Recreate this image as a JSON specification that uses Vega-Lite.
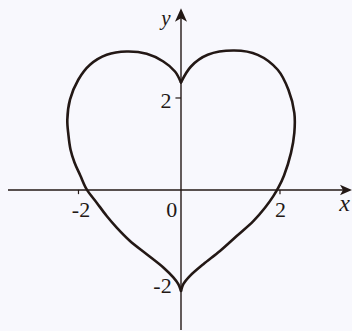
{
  "$schema": "https://vega.github.io/schema/vega-lite/v6.json",
  "width": 352,
  "height": 331,
  "autosize": {"type": "fit", "contains": "padding"},
  "padding": 0,
  "background": "#f8f8fd",
  "config": {"view": {"stroke": null}},
  "datasets": {
    "curve": [
      {"part": "L", "i": 0, "x": 0, "y": 2.294},
      {"part": "L", "i": 1, "x": -0.119, "y": 2.528},
      {"part": "L", "i": 2, "x": -0.35, "y": 2.74},
      {"part": "L", "i": 3, "x": -0.679, "y": 2.904},
      {"part": "L", "i": 4, "x": -1.075, "y": 2.953},
      {"part": "L", "i": 5, "x": -1.471, "y": 2.883},
      {"part": "L", "i": 6, "x": -1.802, "y": 2.67},
      {"part": "L", "i": 7, "x": -2.034, "y": 2.351},
      {"part": "L", "i": 8, "x": -2.198, "y": 1.926},
      {"part": "L", "i": 9, "x": -2.251, "y": 1.5},
      {"part": "L", "i": 10, "x": -2.23, "y": 1.181},
      {"part": "L", "i": 11, "x": -2.188, "y": 0.862},
      {"part": "L", "i": 12, "x": -2.109, "y": 0.585},
      {"part": "L", "i": 13, "x": -1.994, "y": 0.309},
      {"part": "L", "i": 14, "x": -1.867, "y": 0.011},
      {"part": "L", "i": 15, "x": -1.669, "y": -0.272},
      {"part": "L", "i": 16, "x": -1.471, "y": -0.557},
      {"part": "L", "i": 17, "x": -1.273, "y": -0.804},
      {"part": "L", "i": 18, "x": -1.01, "y": -1.089},
      {"part": "L", "i": 19, "x": -0.679, "y": -1.372},
      {"part": "L", "i": 20, "x": -0.35, "y": -1.655},
      {"part": "L", "i": 21, "x": -0.152, "y": -1.868},
      {"part": "L", "i": 22, "x": -0.053, "y": -2.011},
      {"part": "L", "i": 23, "x": 0, "y": -2.153},
      {"part": "R", "i": 0, "x": 0, "y": -2.153},
      {"part": "R", "i": 1, "x": 0.046, "y": -2.011},
      {"part": "R", "i": 2, "x": 0.178, "y": -1.834},
      {"part": "R", "i": 3, "x": 0.442, "y": -1.585},
      {"part": "R", "i": 4, "x": 0.772, "y": -1.302},
      {"part": "R", "i": 5, "x": 1.103, "y": -0.983},
      {"part": "R", "i": 6, "x": 1.432, "y": -0.664},
      {"part": "R", "i": 7, "x": 1.663, "y": -0.379},
      {"part": "R", "i": 8, "x": 1.828, "y": -0.132},
      {"part": "R", "i": 9, "x": 1.927, "y": 0.047},
      {"part": "R", "i": 10, "x": 2.04, "y": 0.309},
      {"part": "R", "i": 11, "x": 2.178, "y": 0.791},
      {"part": "R", "i": 12, "x": 2.244, "y": 1.217},
      {"part": "R", "i": 13, "x": 2.244, "y": 1.643},
      {"part": "R", "i": 14, "x": 2.127, "y": 2.138},
      {"part": "R", "i": 15, "x": 1.915, "y": 2.564},
      {"part": "R", "i": 16, "x": 1.519, "y": 2.883},
      {"part": "R", "i": 17, "x": 1.055, "y": 2.974},
      {"part": "R", "i": 18, "x": 0.529, "y": 2.883},
      {"part": "R", "i": 19, "x": 0.198, "y": 2.634},
      {"part": "R", "i": 20, "x": 0, "y": 2.294}
    ],
    "axes": [
      {"x": -3.426, "x2": 3.3, "y": 0, "y2": 0},
      {"x": 0, "x2": 0, "y": -2.99, "y2": 3.73}
    ],
    "ticks": [
      {"x": -2.03, "x2": -2.03, "y": 0, "y2": -0.09},
      {"x": 1.96, "x2": 1.96, "y": 0, "y2": -0.09},
      {"x": -0.11, "x2": 0, "y": 1.962, "y2": 1.962}
    ],
    "arrows": [
      {"dir": "right", "x": 3.267, "y": 0},
      {"dir": "up", "x": 0, "y": 3.734}
    ],
    "digits": [
      {"t": "-2", "x": -1.98, "y": -0.574, "s": 22},
      {"t": "0", "x": -0.184, "y": -0.574, "s": 22},
      {"t": "2", "x": 1.97, "y": -0.574, "s": 22},
      {"t": "2", "x": -0.297, "y": 1.749, "s": 22},
      {"t": "-2", "x": -0.366, "y": -2.2, "s": 22}
    ],
    "letters": [
      {"t": "x", "x": 3.238, "y": -0.457, "s": 24},
      {"t": "y", "x": -0.297, "y": 3.521, "s": 21}
    ]
  },
  "layer": [
    {
      "data": {"name": "axes"},
      "mark": {"type": "rule", "color": "#231815", "strokeWidth": 1.4},
      "encoding": {
        "x": {"field": "x", "type": "quantitative", "scale": {"domain": [-3.584, 3.386], "nice": false, "zero": false}, "axis": null},
        "x2": {"field": "x2"},
        "y": {"field": "y", "type": "quantitative", "scale": {"domain": [-2.989, 4.053], "nice": false, "zero": false}, "axis": null},
        "y2": {"field": "y2"}
      }
    },
    {
      "data": {"name": "ticks"},
      "mark": {"type": "rule", "color": "#231815", "strokeWidth": 1.2},
      "encoding": {
        "x": {"field": "x", "type": "quantitative"},
        "x2": {"field": "x2"},
        "y": {"field": "y", "type": "quantitative"},
        "y2": {"field": "y2"}
      }
    },
    {
      "data": {"name": "curve"},
      "mark": {"type": "line", "color": "#231815", "strokeWidth": 2.6, "interpolate": "catmull-rom", "strokeCap": "round", "strokeJoin": "round"},
      "encoding": {
        "x": {"field": "x", "type": "quantitative"},
        "y": {"field": "y", "type": "quantitative"},
        "detail": {"field": "part"},
        "order": {"field": "i", "type": "quantitative"}
      }
    },
    {
      "data": {"name": "arrows"},
      "transform": [{"filter": "datum.dir === 'right'"}],
      "mark": {"type": "point", "filled": true, "color": "#231815", "opacity": 1, "size": 144, "shape": "M1,0 L-1,-0.88 L-0.5,0 L-1,0.88 Z"},
      "encoding": {
        "x": {"field": "x", "type": "quantitative"},
        "y": {"field": "y", "type": "quantitative"}
      }
    },
    {
      "data": {"name": "arrows"},
      "transform": [{"filter": "datum.dir === 'up'"}],
      "mark": {"type": "point", "filled": true, "color": "#231815", "opacity": 1, "size": 180, "shape": "M0,-1 L0.9,1 L0,0.5 L-0.9,1 Z"},
      "encoding": {
        "x": {"field": "x", "type": "quantitative"},
        "y": {"field": "y", "type": "quantitative"}
      }
    },
    {
      "data": {"name": "digits"},
      "mark": {"type": "text", "font": "Liberation Serif", "fontStyle": "normal", "color": "#231815", "align": "center", "baseline": "alphabetic"},
      "encoding": {
        "x": {"field": "x", "type": "quantitative"},
        "y": {"field": "y", "type": "quantitative"},
        "text": {"field": "t"},
        "size": {"field": "s", "type": "quantitative", "scale": null}
      }
    },
    {
      "data": {"name": "letters"},
      "mark": {"type": "text", "font": "Liberation Serif", "fontStyle": "italic", "color": "#231815", "align": "center", "baseline": "alphabetic"},
      "encoding": {
        "x": {"field": "x", "type": "quantitative"},
        "y": {"field": "y", "type": "quantitative"},
        "text": {"field": "t"},
        "size": {"field": "s", "type": "quantitative", "scale": null}
      }
    }
  ]
}
